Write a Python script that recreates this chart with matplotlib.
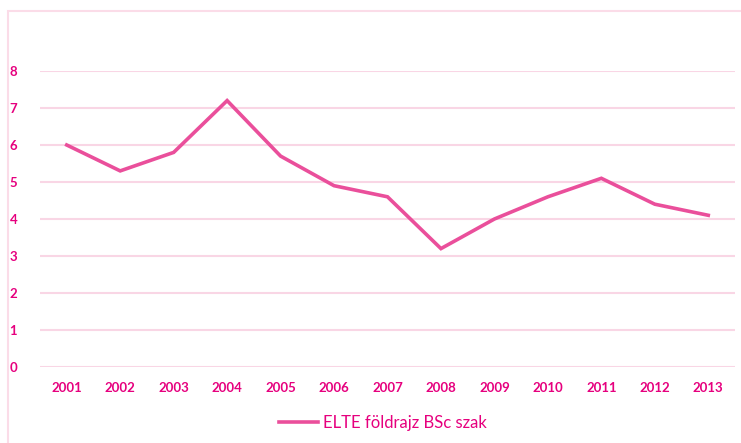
import matplotlib.pyplot as plt
from matplotlib.patches import Rectangle

years = ["2001", "2002", "2003", "2004", "2005", "2006", "2007",
         "2008", "2009", "2010", "2011", "2012", "2013"]
values = [6.0, 5.3, 5.8, 7.2, 5.7, 4.9, 4.6, 3.2, 4.0, 4.6, 5.1, 4.4, 4.1]
series_name = "ELTE földrajz BSc szak"

line_color = "#EA4F9B"
text_color = "#E6007E"
grid_color = "#F9D6E5"

plt.rcParams['font.family'] = ['Lato', 'DejaVu Sans']

W, H = 741, 443
fig = plt.figure(figsize=(W / 100, H / 100), dpi=100)
ax = fig.add_axes([40 / W, 1 - 367 / H, 695 / W, 296 / H])

x = range(len(years))
ax.plot(x, values, color=line_color, lw=2.6, label=series_name,
        solid_joinstyle="miter")

ax.set_xlim(-0.5, len(years) - 0.5)
ax.set_ylim(0, 8)
ax.set_yticks(range(0, 9))
ax.set_xticks(list(x))
ax.set_xticklabels(years)
ax.yaxis.grid(True, color=grid_color, lw=1.5)
ax.set_axisbelow(True)
for s in ax.spines.values():
    s.set_visible(False)
ax.tick_params(length=0, colors=text_color, labelsize=9.5)
ax.tick_params(axis="x", pad=11)
ax.tick_params(axis="y", pad=22)
for lab in ax.get_xticklabels() + ax.get_yticklabels():
    lab.set_fontweight("bold")
for lab in ax.get_yticklabels():
    lab.set_horizontalalignment("left")

leg = ax.legend(loc="center", bbox_to_anchor=(383 / W, 1 - 423 / H),
                bbox_transform=fig.transFigure, frameon=False,
                fontsize=12, handlelength=2.3, handletextpad=0.3)
for t in leg.get_texts():
    t.set_color(text_color)

fig.patches.append(Rectangle((8 / W, -0.1), 1.0, 1 - 11 / H + 0.1,
                             transform=fig.transFigure, fill=False,
                             edgecolor="#FBDCE8", lw=1.5))

fig.savefig("out.png", dpi=100)
